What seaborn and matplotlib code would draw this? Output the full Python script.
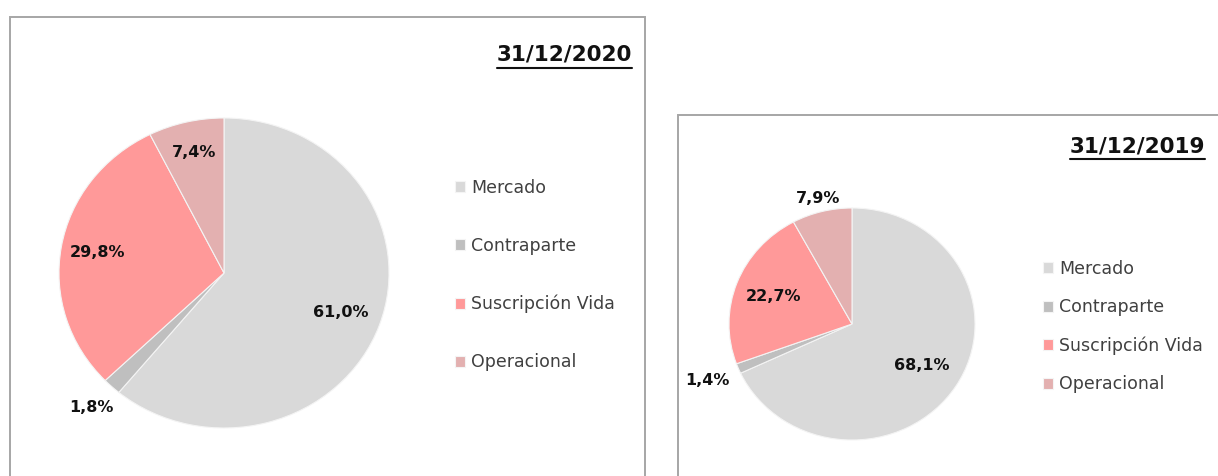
import numpy as np
import matplotlib
matplotlib.use("Agg")
import matplotlib.pyplot as plt
import seaborn as sns
from matplotlib.patches import Rectangle
from matplotlib.lines import Line2D

categories = ["Mercado", "Contraparte", "Suscripción Vida", "Operacional"]
shares_2020 = [61.0, 1.8, 29.8, 7.4]
shares_2019 = [68.1, 1.4, 22.7, 7.9]
titles = ["31/12/2020", "31/12/2019"]

sns.set_theme(style="white")
plt.rcParams["font.family"] = ["DejaVu Sans"]
palette = sns.color_palette(["#D9D9D9", "#BFBFBF", "#FF9999", "#E3B0B0"])

W, H = 1218, 476
fig = plt.figure(figsize=(W / 100, H / 100), dpi=100)


def px_box(x0, y0, x1, y1):
    # pixel box (top-left origin) -> figure fraction [left, bottom, width, height]
    return [x0 / W, 1 - y1 / H, (x1 - x0) / W, (y1 - y0) / H]


def fmt(v):
    return f"{v:.1f}".replace(".", ",") + "%"


def draw_panel(values, title, box, center, rad, label_r, title_xy, leg_xy, leg_spacing):
    # panel frame
    x0, y0, x1, y1 = box
    fig.patches.append(Rectangle((x0 / W, 1 - y1 / H), (x1 - x0) / W, (y1 - y0) / H,
                                 transform=fig.transFigure, fill=False,
                                 edgecolor="#A6A6A6", lw=1.4, zorder=0))
    cx, cy = center
    rx, ry = rad
    ax = fig.add_axes(px_box(cx - rx, cy - ry, cx + rx, cy + ry))
    wedges, _ = ax.pie(values, colors=palette, startangle=90, counterclock=False,
                       wedgeprops=dict(edgecolor="#F4F4F4", linewidth=0.8))
    ax.set_aspect("auto")
    ax.set_xlim(-1, 1)
    ax.set_ylim(-1, 1)
    ax.axis("off")

    total = sum(values)
    start = 0.0
    for v, r in zip(values, label_r):
        mid = 90 - (start + v / 2) / total * 360
        start += v
        a = np.deg2rad(mid)
        ax.text(r * np.cos(a), r * np.sin(a), fmt(v), ha="center", va="center",
                fontsize=11.5, fontweight="bold", color="#111111", clip_on=False)

    tx, ty = title_xy
    t = fig.text(tx / W, 1 - ty / H, title, ha="right", va="baseline",
                 fontsize=15.5, fontweight="bold", color="#111111")
    fig.canvas.draw()
    bb = t.get_window_extent()
    fig.lines.append(Line2D([bb.x0 / W, bb.x1 / W], [(bb.y0 - 3) / H] * 2,
                            transform=fig.transFigure, color="#111111", lw=1.5))

    lx, ly = leg_xy
    ax.legend(wedges, categories, loc="upper left",
              bbox_to_anchor=(lx / W, 1 - ly / H), bbox_transform=fig.transFigure,
              frameon=False, fontsize=12.5, labelcolor="#404040",
              handlelength=0.6, handleheight=0.6, handletextpad=0.35,
              labelspacing=leg_spacing, borderaxespad=0)


draw_panel(shares_2020, titles[0], (10, 17, 645, 490), (224, 273), (165, 155),
           [0.75, 1.18, 0.78, 0.8], (632, 61), (448, 172), 2.3)
draw_panel(shares_2019, titles[1], (678, 115, 1230, 490), (852, 324), (123, 116),
           [0.67, 1.27, 0.68, 1.12], (1205, 152), (1036, 253), 1.17)

fig.savefig("out.png", dpi=100, facecolor="white")
